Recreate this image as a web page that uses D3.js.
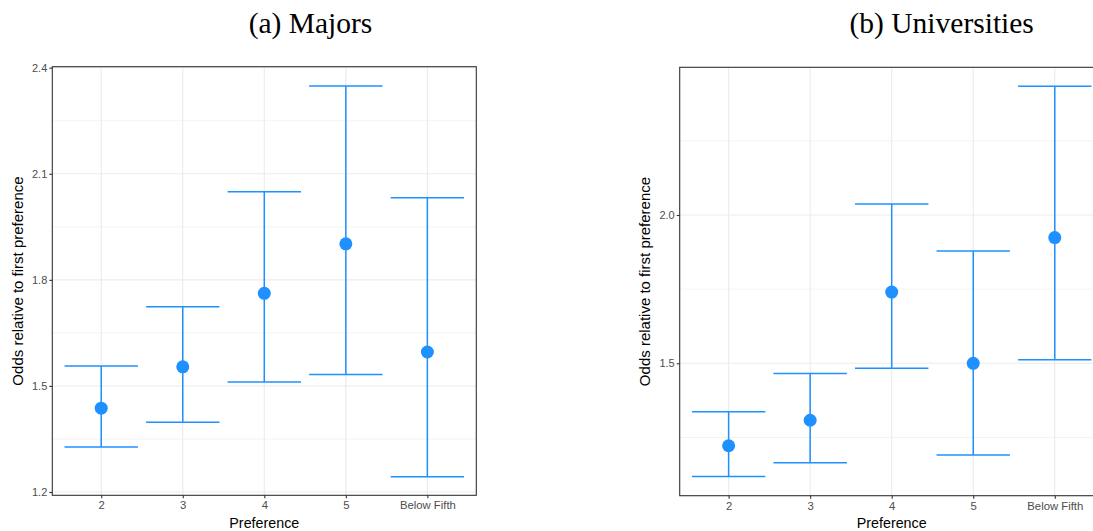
<!DOCTYPE html>
<html>
<head>
<meta charset="utf-8">
<script src="https://cdn.jsdelivr.net/npm/d3@7"></script>
<style>
  html, body { margin: 0; padding: 0; background: #fff; }
  svg { display: block; }
</style>
</head>
<body>
<svg id="chart" width="1093" height="531"></svg>
<script>
// ---- Data ----
const categories = ["2", "3", "4", "5", "Below Fifth"];

const majorsEstimate = [1.437, 1.554, 1.762, 1.902, 1.596];
const majorsLower    = [1.327, 1.397, 1.511, 1.532, 1.243];
const majorsUpper    = [1.556, 1.724, 2.049, 2.348, 2.032];
const majorsTicks      = [1.2, 1.5, 1.8, 2.1, 2.4];
const majorsMinorTicks = [1.35, 1.65, 1.95, 2.25];

const univEstimate = [1.222, 1.308, 1.740, 1.500, 1.924];
const univLower    = [1.118, 1.165, 1.483, 1.191, 1.512];
const univUpper    = [1.337, 1.466, 2.037, 1.879, 2.434];
const univTicks      = [1.5, 2.0];
const univMinorTicks = [1.25, 1.75, 2.25];

const titles = ["(a) Majors", "(b) Universities"];
const xTitle = "Preference";
const yTitle = "Odds relative to first preference";

// ---- Drawing ----
const svg = d3.select("#chart");
const blue = "#1E90FF";

function panel(opts) {
  const { left, top, width, height, yDomain, ticks, minor, est, lo, hi, title, titleX } = opts;
  const g = svg.append("g");
  const x = d3.scalePoint().domain(categories).range([left, left + width]).padding(0.6);
  const y = d3.scaleLinear().domain(yDomain).range([top + height, top]);
  const step = x.step();

  g.append("rect").attr("x", left).attr("y", top).attr("width", width).attr("height", height)
    .attr("fill", "#fff");

  g.selectAll(".minor").data(minor).enter().append("line")
    .attr("x1", left).attr("x2", left + width)
    .attr("y1", d => y(d)).attr("y2", d => y(d))
    .attr("stroke", "#ebebeb").attr("stroke-width", 0.6);
  g.selectAll(".majy").data(ticks).enter().append("line")
    .attr("x1", left).attr("x2", left + width)
    .attr("y1", d => y(d)).attr("y2", d => y(d))
    .attr("stroke", "#ebebeb").attr("stroke-width", 1.1);
  g.selectAll(".majx").data(categories).enter().append("line")
    .attr("x1", d => x(d)).attr("x2", d => x(d))
    .attr("y1", top).attr("y2", top + height)
    .attr("stroke", "#ebebeb").attr("stroke-width", 1.1);

  const data = categories.map((c, i) => ({ c, e: est[i], l: lo[i], h: hi[i] }));

  const eb = g.selectAll(".eb").data(data).enter().append("g");
  eb.append("line")
    .attr("x1", d => x(d.c)).attr("x2", d => x(d.c))
    .attr("y1", d => y(d.l)).attr("y2", d => y(d.h))
    .attr("stroke", blue).attr("stroke-width", 1.5);
  eb.append("line")
    .attr("x1", d => x(d.c) - 0.45 * step).attr("x2", d => x(d.c) + 0.45 * step)
    .attr("y1", d => y(d.h)).attr("y2", d => y(d.h))
    .attr("stroke", blue).attr("stroke-width", 1.5);
  eb.append("line")
    .attr("x1", d => x(d.c) - 0.45 * step).attr("x2", d => x(d.c) + 0.45 * step)
    .attr("y1", d => y(d.l)).attr("y2", d => y(d.l))
    .attr("stroke", blue).attr("stroke-width", 1.5);
  eb.append("circle")
    .attr("cx", d => x(d.c)).attr("cy", d => y(d.e)).attr("r", 6.5)
    .attr("fill", blue);

  g.append("rect").attr("x", left).attr("y", top).attr("width", width).attr("height", height)
    .attr("fill", "none").attr("stroke", "#333").attr("stroke-width", 1.1);

  const yAxis = d3.axisLeft(y).tickValues(ticks).tickSize(3).tickPadding(2)
    .tickFormat(d3.format(".1f"));
  const ya = g.append("g").attr("transform", `translate(${left},0)`).call(yAxis);
  ya.select(".domain").remove();
  ya.selectAll(".tick line").attr("stroke", "#333").attr("stroke-width", 1.1);
  ya.selectAll(".tick text").attr("fill", "#4d4d4d")
    .style("font-family", "'Liberation Sans', Arial, sans-serif").style("font-size", "11px");

  const xAxis = d3.axisBottom(x).tickSize(3).tickPadding(3);
  const xa = g.append("g").attr("transform", `translate(0,${top + height})`).call(xAxis);
  xa.select(".domain").remove();
  xa.selectAll(".tick line").attr("stroke", "#333").attr("stroke-width", 1.1);
  xa.selectAll(".tick text").attr("fill", "#4d4d4d")
    .style("font-family", "'Liberation Sans', Arial, sans-serif").style("font-size", "11.3px");

  g.append("text").attr("x", left + width / 2).attr("y", 528)
    .attr("text-anchor", "middle")
    .style("font-family", "'Liberation Sans', Arial, sans-serif").style("font-size", "14.3px")
    .attr("fill", "#000").text(xTitle);
  g.append("text")
    .attr("transform", `translate(${left - 29.5},${top + height / 2}) rotate(-90)`)
    .attr("text-anchor", "middle")
    .style("font-family", "'Liberation Sans', Arial, sans-serif").style("font-size", "15px")
    .attr("fill", "#000").text(yTitle);

  svg.append("text").attr("x", titleX).attr("y", 33)
    .attr("text-anchor", "middle")
    .style("font-family", "'Liberation Serif', 'Times New Roman', serif").style("font-size", "29.5px")
    .attr("fill", "#000").text(title);
}

const pxPerUnitA = (492 - 67.7) / 1.2;
panel({
  left: 52.3, top: 66.7, width: 424, height: 428.6,
  yDomain: [1.2 - (495.3 - 492) / pxPerUnitA, 2.4 + (67.7 - 66.7) / pxPerUnitA],
  ticks: majorsTicks, minor: majorsMinorTicks,
  est: majorsEstimate, lo: majorsLower, hi: majorsUpper,
  title: titles[0], titleX: 310.5
});

const pxPerUnitB = (363.3 - 215) / 0.5;
panel({
  left: 679.7, top: 67.3, width: 424, height: 428.4,
  yDomain: [1.5 - (495.7 - 363.3) / pxPerUnitB, 2.0 + (215 - 67.3) / pxPerUnitB],
  ticks: univTicks, minor: univMinorTicks,
  est: univEstimate, lo: univLower, hi: univUpper,
  title: titles[1], titleX: 941.7
});
</script>
</body>
</html>
